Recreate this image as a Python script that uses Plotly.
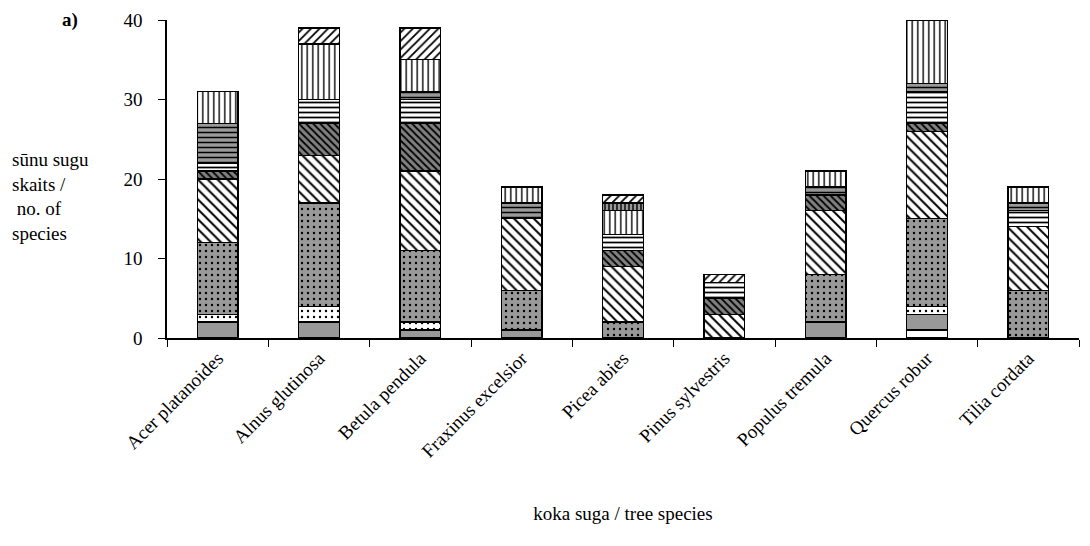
import plotly.graph_objects as go

# tree species on the x axis
categories = ["Acer platanoides", "Alnus glutinosa", "Betula pendula",
              "Fraxinus excelsior", "Picea abies", "Pinus sylvestris",
              "Populus tremula", "Quercus robur", "Tilia cordata"]

# number of fungus species per group, stacked bottom to top
s_white = [0, 0, 0, 0, 0, 0, 0, 1, 0]
s_grey = [2, 2, 1, 1, 0, 0, 2, 2, 0]
s_white_dots = [1, 2, 1, 0, 0, 0, 0, 1, 0]
s_grey_dots = [9, 13, 9, 5, 2, 0, 6, 11, 6]
s_white_bdiag = [8, 6, 10, 9, 7, 3, 8, 11, 8]
s_grey_bdiag = [1, 4, 6, 0, 2, 2, 2, 1, 0]
s_white_horiz = [1, 3, 3, 0, 2, 2, 0, 4, 2]
s_grey_horiz = [5, 0, 1, 2, 0, 0, 1, 1, 1]
s_white_vert = [4, 7, 4, 2, 3, 0, 2, 8, 2]
s_grey_vert = [0, 0, 0, 0, 1, 0, 0, 0, 0]
s_white_fdiag = [0, 2, 4, 0, 1, 1, 0, 0, 0]

y_ticks = [0, 10, 20, 30, 40]

GREY = "#999999"
DARK = "#808080"

# (values, background, pattern shape, pattern size, solidity)
series = [
    (s_white, "white", "", 8, 0.2),
    (s_grey, GREY, "", 8, 0.2),
    (s_white_dots, "white", ".", 6, 0.12),
    (s_grey_dots, GREY, ".", 6, 0.12),
    (s_white_bdiag, "white", "\\", 7, 0.28),
    (s_grey_bdiag, DARK, "\\", 5, 0.35),
    (s_white_horiz, "white", "-", 5, 0.35),
    (s_grey_horiz, GREY, "-", 5, 0.3),
    (s_white_vert, "white", "|", 5.5, 0.25),
    (s_grey_vert, GREY, "|", 4, 0.35),
    (s_white_fdiag, "white", "/", 6, 0.3),
]

fig = go.Figure()
for vals, bg, shape, size, sol in series:
    fig.add_trace(go.Bar(
        x=categories, y=vals,
        marker=dict(
            color=bg,
            line=dict(color="black", width=1.3),
            pattern=dict(shape=shape, bgcolor=bg, fgcolor="black",
                         size=size, solidity=sol, fillmode="replace"),
        ),
        showlegend=False,
        hoverinfo="x+y",
    ))

font_family = "Liberation Serif, Times New Roman, serif"

fig.update_layout(
    barmode="stack",
    bargap=0.6,
    width=1090, height=546,
    margin=dict(l=167, r=11, t=20, b=208),
    paper_bgcolor="white",
    plot_bgcolor="white",
    font=dict(family=font_family, size=19, color="black"),
    xaxis=dict(
        tickangle=-45,
        tickson="boundaries",
        ticks="outside", ticklen=7, tickcolor="black",
        showline=True, linecolor="black", linewidth=1.5,
        showgrid=False,
        title=dict(text="koka suga / tree species", standoff=46,
                   font=dict(size=19)),
    ),
    yaxis=dict(
        range=[0, 40],
        tickvals=y_ticks,
        ticks="outside", ticklen=7, tickcolor="black",
        showline=True, linecolor="black", linewidth=1.5,
        showgrid=False, zeroline=False,
        ticklabelstandoff=12,
    ),
    annotations=[
        dict(text="sūnu sugu<br>skaits /<br> no. of<br>species",
             xref="paper", yref="paper", x=-0.172, y=0.445,
             xanchor="left", yanchor="middle", align="left",
             showarrow=False, font=dict(size=19)),
        dict(text="<b>a)</b>", xref="paper", yref="paper",
             x=-0.095, y=1.0, xanchor="right", yanchor="middle",
             showarrow=False, font=dict(size=19)),
    ],
)

fig.write_html("out.html")
